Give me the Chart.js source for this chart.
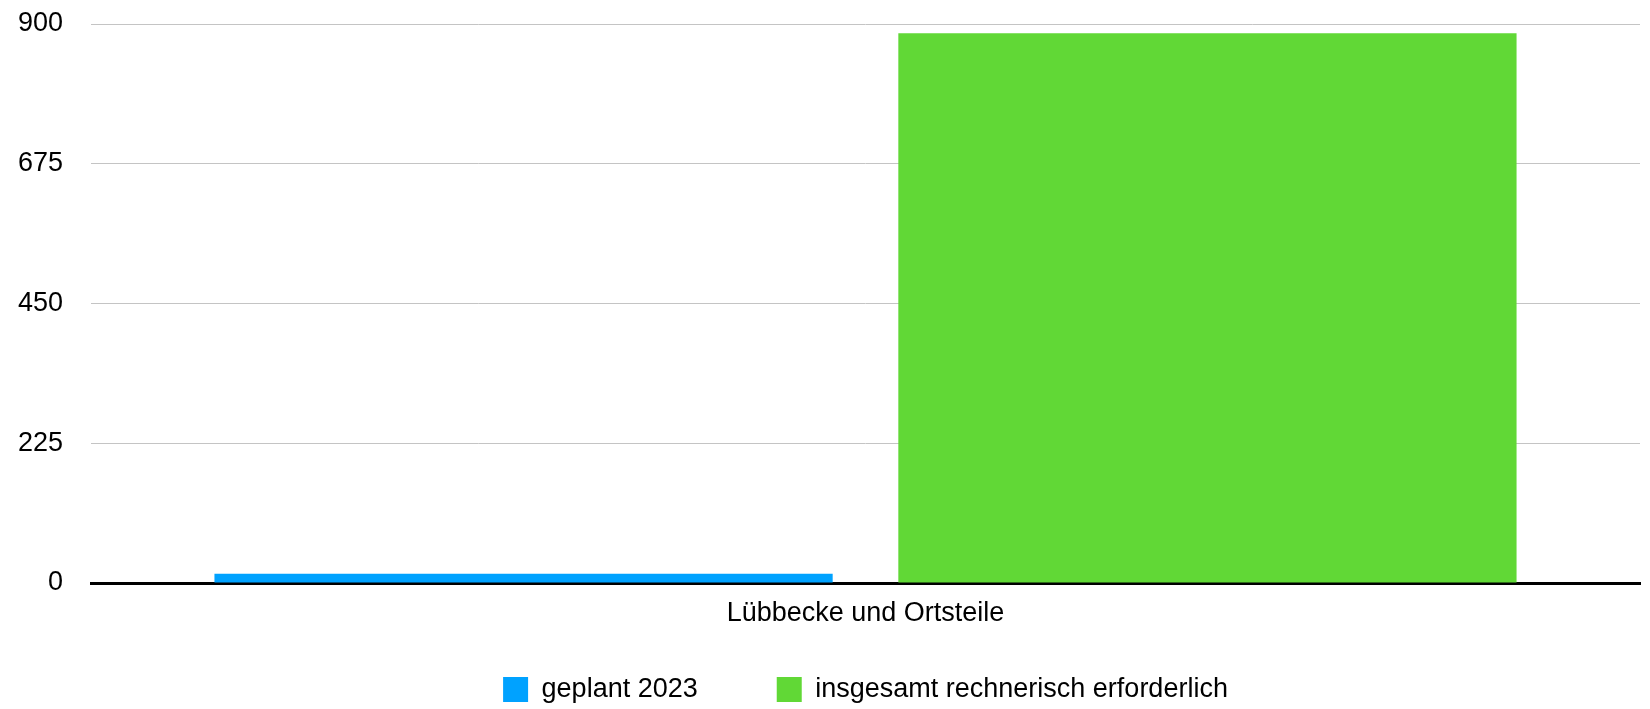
<!DOCTYPE html>
<html lang="de">
<head>
    <meta charset="UTF-8">
    <title>Lübbecke und Ortsteile</title>
    <script src="https://cdn.jsdelivr.net/npm/chart.js"></script>
    <style>
        html, body { margin: 0; padding: 0; background: #fff; }
        #wrap { width: 1650px; height: 709px; }
    </style>
</head>
<body>
    <div id="wrap"><canvas id="myChart"></canvas></div>

    <script>
        // chart data
        var categories = ['Lübbecke und Ortsteile'];
        var seriesNames = ['geplant 2023', 'insgesamt rechnerisch erforderlich'];
        var geplant2023 = [15];
        var insgesamtErforderlich = [885];
        var yTicks = [0, 225, 450, 675, 900];

        var fontFamily = '"Liberation Sans", Arial, Helvetica, sans-serif';

        var ctx = document.getElementById('myChart').getContext('2d');
        var myChart = new Chart(ctx, {
            type: 'bar',
            data: {
                labels: categories,
                datasets: [{
                    label: seriesNames[0],
                    data: geplant2023,
                    backgroundColor: '#00A2FF',
                    categoryPercentage: 0.883,
                    barPercentage: 0.904
                }, {
                    label: seriesNames[1],
                    data: insgesamtErforderlich,
                    backgroundColor: '#61D836',
                    categoryPercentage: 0.883,
                    barPercentage: 0.904
                }]
            },
            options: {
                responsive: true,
                maintainAspectRatio: false,
                animation: false,
                layout: {
                    padding: { top: 0, right: 10, left: 0, bottom: -4 }
                },
                plugins: {
                    tooltip: { enabled: false },
                    legend: {
                        position: 'bottom',
                        fullSize: false,
                        labels: {
                            boxWidth: 25,
                            boxHeight: 25,
                            padding: 79,
                            color: '#000',
                            font: { family: fontFamily, size: 27 }
                        }
                    }
                },
                scales: {
                    x: {
                        grid: { display: false, drawTicks: false },
                        border: { display: true, color: '#000', width: 3 },
                        afterFit: function (scale) {
                            scale.height = 14;
                        },
                        ticks: {
                            // mirrored so the label is not clipped to the thin axis box
                            mirror: true,
                            color: '#000',
                            padding: -47,
                            font: { family: fontFamily, size: 27 }
                        }
                    },
                    y: {
                        min: 0,
                        max: 900,
                        afterBuildTicks: function (scale) {
                            scale.ticks = yTicks.map(function (v) { return { value: v }; });
                        },
                        afterFit: function (scale) {
                            scale.width = 91;
                            // tick padding would otherwise push the plot top down
                            scale.paddingTop = 24;
                            scale.paddingBottom = 0;
                        },
                        grid: {
                            color: '#c4c4c4',
                            lineWidth: 1,
                            drawTicks: false
                        },
                        border: { display: false },
                        ticks: {
                            color: '#000',
                            padding: 28,
                            font: { family: fontFamily, size: 27 }
                        }
                    }
                }
            }
        });
    </script>
</body>
</html>
